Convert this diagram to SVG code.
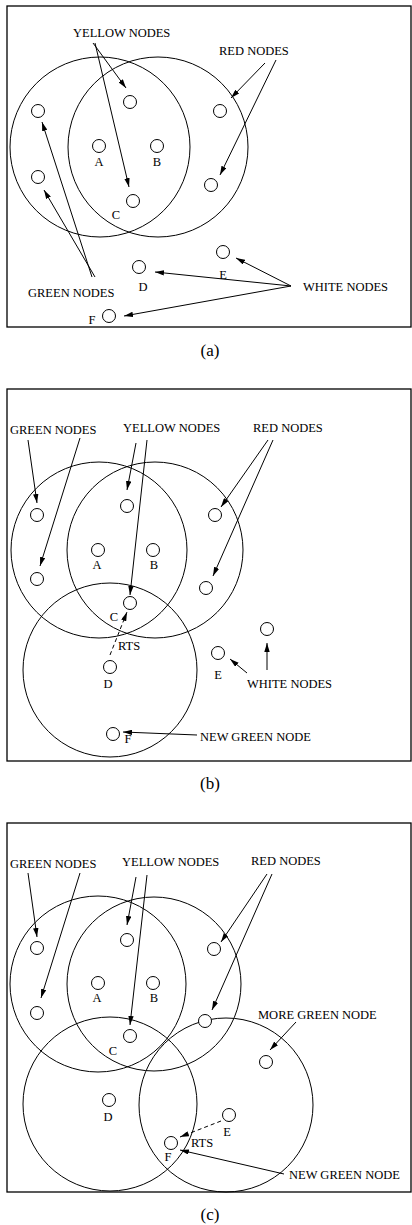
<svg xmlns="http://www.w3.org/2000/svg" width="412" height="1225" viewBox="0 0 412 1225">
<defs>
<style>
.frame{fill:none;stroke:#000;stroke-width:1.3}
.range{fill:none;stroke:#000;stroke-width:1}
.node{fill:#fff;stroke:#000;stroke-width:1}
.conn{fill:none;stroke:#000;stroke-width:1;marker-end:url(#ah)}
.dash{stroke-dasharray:4,3}
text{font-family:"Liberation Serif","Times New Roman",serif;font-size:12.5px;fill:#000}
.lbl{text-anchor:middle}
.cap{font-size:17px;text-anchor:middle}
</style>
<marker id="ah" viewBox="0 0 10 6" refX="10" refY="3" markerWidth="9" markerHeight="5.4" markerUnits="userSpaceOnUse" orient="auto">
<path d="M0,0 L10,3 L0,6 Z" fill="#000"/>
</marker>
</defs>
<rect width="412" height="1225" fill="#fff"/>

<!-- Panel (a) -->
<g id="panel-a">
<rect class="frame" x="7" y="6" width="404" height="321"/>
<circle class="range" cx="100" cy="147" r="90"/>
<circle class="range" cx="158" cy="147" r="90"/>
<g id="a-green1"><circle class="node" cx="38" cy="111" r="6.5"/></g>
<g id="a-green2"><circle class="node" cx="38" cy="177" r="6.5"/></g>
<g id="a-yellow1"><circle class="node" cx="130" cy="102" r="6.5"/></g>
<g id="a-A"><circle class="node" cx="99" cy="146" r="6.5"/><text class="lbl" x="99" y="166">A</text></g>
<g id="a-B"><circle class="node" cx="157" cy="146" r="6.5"/><text class="lbl" x="157" y="166">B</text></g>
<g id="a-C"><circle class="node" cx="133" cy="201" r="6.5"/><text class="lbl" x="116" y="219">C</text></g>
<g id="a-red1"><circle class="node" cx="220" cy="111" r="6.5"/></g>
<g id="a-red2"><circle class="node" cx="211" cy="185" r="6.5"/></g>
<g id="a-D"><circle class="node" cx="139" cy="267" r="6.5"/><text class="lbl" x="143" y="291">D</text></g>
<g id="a-E"><circle class="node" cx="223" cy="252" r="6.5"/><text class="lbl" x="223" y="279">E</text></g>
<g id="a-F"><circle class="node" cx="109" cy="316" r="6.5"/><text class="lbl" x="92" y="324">F</text></g>
<text x="73" y="37">YELLOW NODES</text>
<text x="219" y="55">RED NODES</text>
<text x="28" y="297">GREEN NODES</text>
<text x="303" y="291">WHITE NODES</text>
<g id="a-connectors">
<line class="conn" x1="93" y1="43" x2="126" y2="88"/>
<line class="conn" x1="95" y1="43" x2="129" y2="187"/>
<line class="conn" x1="265" y1="63" x2="231" y2="98"/>
<line class="conn" x1="276" y1="60" x2="220" y2="175"/>
<line class="conn" x1="92" y1="277" x2="42" y2="122"/>
<line class="conn" x1="95" y1="277" x2="44" y2="190"/>
<line class="conn" x1="291" y1="286" x2="236" y2="258"/>
<line class="conn" x1="291" y1="286" x2="155" y2="272"/>
<line class="conn" x1="291" y1="286" x2="124" y2="316"/>
</g>
<text class="cap" x="210" y="356">(a)</text>
</g>

<!-- Panel (b) -->
<g id="panel-b">
<rect class="frame" x="7" y="389" width="404" height="372"/>
<circle class="range" cx="99" cy="550" r="88"/>
<circle class="range" cx="155" cy="550" r="88"/>
<circle class="range" cx="110" cy="670" r="87"/>
<g id="b-green1"><circle class="node" cx="37" cy="515" r="6.5"/></g>
<g id="b-green2"><circle class="node" cx="37" cy="579" r="6.5"/></g>
<g id="b-yellow1"><circle class="node" cx="127" cy="506" r="6.5"/></g>
<g id="b-A"><circle class="node" cx="98" cy="550" r="6.5"/><text class="lbl" x="97" y="569">A</text></g>
<g id="b-B"><circle class="node" cx="153" cy="550" r="6.5"/><text class="lbl" x="154" y="569">B</text></g>
<g id="b-red1"><circle class="node" cx="215" cy="515" r="6.5"/></g>
<g id="b-red2"><circle class="node" cx="206" cy="588" r="6.5"/></g>
<g id="b-C"><circle class="node" cx="130" cy="603" r="6.5"/><text class="lbl" x="114" y="621">C</text></g>
<g id="b-D"><circle class="node" cx="110" cy="667" r="6.5"/><text class="lbl" x="108" y="688">D</text></g>
<g id="b-E"><circle class="node" cx="218" cy="653" r="6.5"/><text class="lbl" x="218" y="679">E</text></g>
<g id="b-white"><circle class="node" cx="267" cy="629" r="6.5"/></g>
<g id="b-F"><circle class="node" cx="113" cy="734" r="6.5"/><text class="lbl" x="128" y="743">F</text></g>
<text x="10" y="434">GREEN NODES</text>
<text x="123" y="432">YELLOW NODES</text>
<text x="253" y="432">RED NODES</text>
<text x="118" y="650">RTS</text>
<text x="247" y="688">WHITE NODES</text>
<text x="200" y="741">NEW GREEN NODE</text>
<g id="b-connectors">
<line class="conn" x1="28" y1="440" x2="37" y2="503"/>
<line class="conn" x1="80" y1="438" x2="40" y2="566"/>
<line class="conn" x1="136" y1="443" x2="127" y2="490"/>
<line class="conn" x1="147" y1="440" x2="130" y2="595"/>
<line class="conn" x1="268" y1="440" x2="221" y2="507"/>
<line class="conn" x1="273" y1="440" x2="213" y2="576"/>
<line class="conn dash" x1="110" y1="655" x2="127" y2="612"/>
<line class="conn" x1="247" y1="673" x2="230" y2="659"/>
<line class="conn" x1="267" y1="670" x2="267" y2="643"/>
<line class="conn" x1="197" y1="735" x2="123" y2="732"/>
</g>
<text class="cap" x="210" y="789">(b)</text>
</g>

<!-- Panel (c) -->
<g id="panel-c">
<rect class="frame" x="7" y="823" width="404" height="369"/>
<circle class="range" cx="98" cy="984" r="88"/>
<circle class="range" cx="154" cy="984" r="87"/>
<circle class="range" cx="110" cy="1104" r="87"/>
<circle class="range" cx="226" cy="1105" r="87"/>
<g id="c-green1"><circle class="node" cx="37" cy="948" r="6.5"/></g>
<g id="c-green2"><circle class="node" cx="37" cy="1013" r="6.5"/></g>
<g id="c-yellow1"><circle class="node" cx="127" cy="940" r="6.5"/></g>
<g id="c-A"><circle class="node" cx="98" cy="983" r="6.5"/><text class="lbl" x="97" y="1002">A</text></g>
<g id="c-B"><circle class="node" cx="153" cy="983" r="6.5"/><text class="lbl" x="154" y="1002">B</text></g>
<g id="c-red1"><circle class="node" cx="214" cy="949" r="6.5"/></g>
<g id="c-red2"><circle class="node" cx="205" cy="1021" r="6.5"/></g>
<g id="c-C"><circle class="node" cx="130" cy="1036" r="6.5"/><text class="lbl" x="113" y="1055">C</text></g>
<g id="c-D"><circle class="node" cx="109" cy="1100" r="6.5"/><text class="lbl" x="108" y="1121">D</text></g>
<g id="c-more"><circle class="node" cx="266" cy="1062" r="6.5"/></g>
<g id="c-E"><circle class="node" cx="229" cy="1115" r="6.5"/><text class="lbl" x="227" y="1136">E</text></g>
<g id="c-F"><circle class="node" cx="171" cy="1143" r="6.5"/><text class="lbl" x="168" y="1161">F</text></g>
<text x="10" y="868">GREEN NODES</text>
<text x="122" y="866">YELLOW NODES</text>
<text x="251" y="865">RED NODES</text>
<text x="258" y="1019">MORE GREEN NODE</text>
<text x="191" y="1147">RTS</text>
<text x="289" y="1179">NEW GREEN NODE</text>
<g id="c-connectors">
<line class="conn" x1="28" y1="873" x2="37" y2="937"/>
<line class="conn" x1="80" y1="873" x2="41" y2="998"/>
<line class="conn" x1="136" y1="877" x2="127" y2="925"/>
<line class="conn" x1="147" y1="875" x2="130" y2="1025"/>
<line class="conn" x1="267" y1="874" x2="221" y2="942"/>
<line class="conn" x1="272" y1="874" x2="212" y2="1010"/>
<line class="conn" x1="296" y1="1022" x2="270" y2="1050"/>
<line class="conn dash" x1="221" y1="1121" x2="180" y2="1137"/>
<line class="conn" x1="284" y1="1174" x2="180" y2="1150"/>
</g>
<text class="cap" x="210" y="1220">(c)</text>
</g>
</svg>
